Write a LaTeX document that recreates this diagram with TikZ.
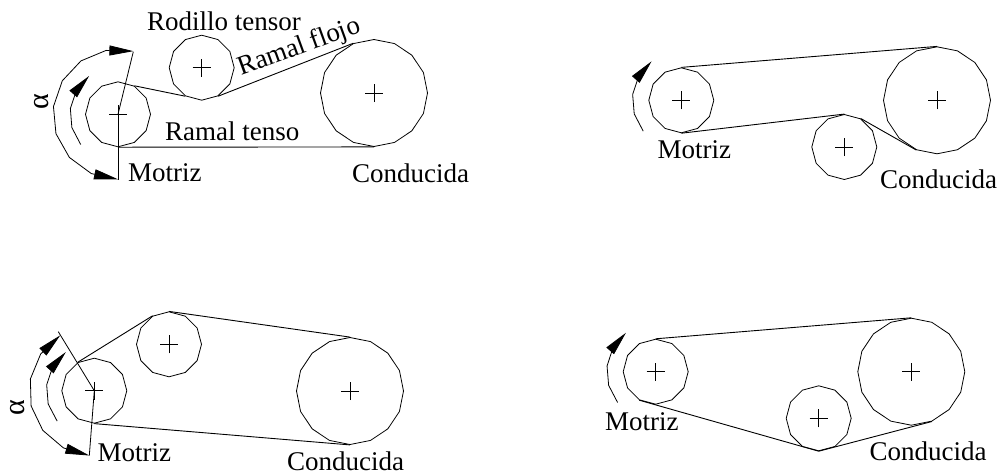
\documentclass[tikz,border=0pt]{standalone}
\usepackage{fontspec}
\setmainfont{Liberation Serif}
\usetikzlibrary{shapes.geometric,arrows.meta}
\tikzset{
  pulley/.style n args={3}{regular polygon, regular polygon sides=#1, shape border rotate=#3, minimum size=#2, inner sep=0pt, draw, line width=0.8pt,
    path picture={\draw[line width=0.7pt] ([xshift=-9pt]path picture bounding box.center) -- ([xshift=9pt]path picture bounding box.center)
      ([yshift=-9pt]path picture bounding box.center) -- ([yshift=9pt]path picture bounding box.center);}},
  small/.style={pulley={12}{65pt}{15}},
  large/.style={pulley={16}{107pt}{11.25}},
  belt/.style={line width=0.9pt},
  dimline/.style={line width=0.8pt},
  lbl/.style={anchor=base west, inner sep=0pt, font=\fontsize{27}{27}\selectfont},
  greek/.style={rotate=90, inner sep=0pt, font=\fontsize{30}{30}\selectfont},
  headend/.style={-{Triangle[length=24pt,width=10pt]}},
  headboth/.style={{Triangle[length=24pt,width=10pt]}-{Triangle[length=24pt,width=10pt]}}
}
\begin{document}
\begin{tikzpicture}[x=1pt,y=-1pt]
\useasboundingbox (0,0) rectangle (998,474);
% --- diagram 1
\node[small] (m1) at (118,114.3) {};
\node[small] (t1) at (201.7,67.7) {};
\node[large] (c1) at (374,93) {};
\draw[belt] (m1.corner 12) -- (t1.corner 6);
\draw[belt] (t1.corner 8) -- (c1.corner 2);
\draw[belt] (m1.corner 7) -- (c1.corner 9);
\coordinate (a1) at (133.3,51.7);
\coordinate (b1) at (118,180);
\draw[dimline] (m1.center) -- (a1);
\draw[dimline] (m1.center) -- (b1);
\draw[dimline,headboth] plot[samples=9,domain=76.3:270] ({118+65*cos(\x)},{114.3-65*sin(\x)});
\draw[dimline,headend] plot[samples=5,domain=219:127] ({118+48*cos(\x)},{114.3-48*sin(\x)});
\node[lbl] (l1) at (147,30.7) {Rodillo tensor};
\node[lbl,rotate=20] (l2) at (241,76) {Ramal flojo};
\node[lbl] (l3) at (165,140.7) {Ramal tenso};
\node[lbl] (l4) at (128,181.7) {Motriz};
\node[lbl] (l5) at (352,182) {Conducida};
\node[greek] (l6) at (42,101.7) {α};
% --- diagram 2
\node[small] (m2) at (681.3,100.3) {};
\node[small] (t2) at (844.3,147) {};
\node[large] (c2) at (937,100.3) {};
\draw[belt] (m2.corner 1) -- (c2.corner 1);
\draw[belt] (m2.corner 7) -- (t2.corner 1);
\draw[belt] (t2.corner 12) -- (c2.corner 8);
\draw[dimline,headend] plot[samples=5,domain=219:127.4] ({681.3+49*cos(\x)},{100.3-49*sin(\x)});
\node[lbl] (l7) at (657.3,158.3) {Motriz};
\node[lbl] (l8) at (880,188.3) {Conducida};
% --- diagram 3
\node[small] (m3) at (94.3,390.7) {};
\node[small] (t3) at (169,344.3) {};
\node[large] (c3) at (350,391) {};
\draw[belt] (t3.corner 1) -- (c3.corner 1);
\draw[belt] (m3.corner 2) -- (t3.corner 2);
\draw[belt] (m3.corner 7) -- (c3.corner 9);
\coordinate (a3) at (58.3,331.7);
\coordinate (b3) at (89.3,455.7);
\draw[dimline] (m3.center) -- (a3);
\draw[dimline] (m3.center) -- (b3);
\draw[dimline,headboth] plot[samples=7,domain=121.6:265.6] ({94.3+65*cos(\x)},{390.7-65*sin(\x)});
\draw[dimline,headend] plot[samples=5,domain=219.3:126.4] ({94.3+48*cos(\x)},{390.7-48*sin(\x)});
\node[lbl] (l9) at (97.3,461.7) {Motriz};
\node[lbl] (l10) at (287,470) {Conducida};
\node[greek] (l11) at (18,408) {α};
% --- diagram 4
\node[small] (m4) at (655.7,371.7) {};
\node[small] (t4) at (818.7,418.3) {};
\node[large] (c4) at (911.3,371.7) {};
\draw[belt] (m4.corner 1) -- (c4.corner 1);
\draw[belt] (m4.corner 6) -- (t4.corner 7);
\draw[belt] (t4.corner 7) -- (c4.corner 10);
\draw[dimline,headend] plot[samples=5,domain=219:127.4] ({655.7+49*cos(\x)},{371.7-49*sin(\x)});
\node[lbl] (l12) at (605,430) {Motriz};
\node[lbl] (l13) at (869.3,460.7) {Conducida};
\end{tikzpicture}
\end{document}
